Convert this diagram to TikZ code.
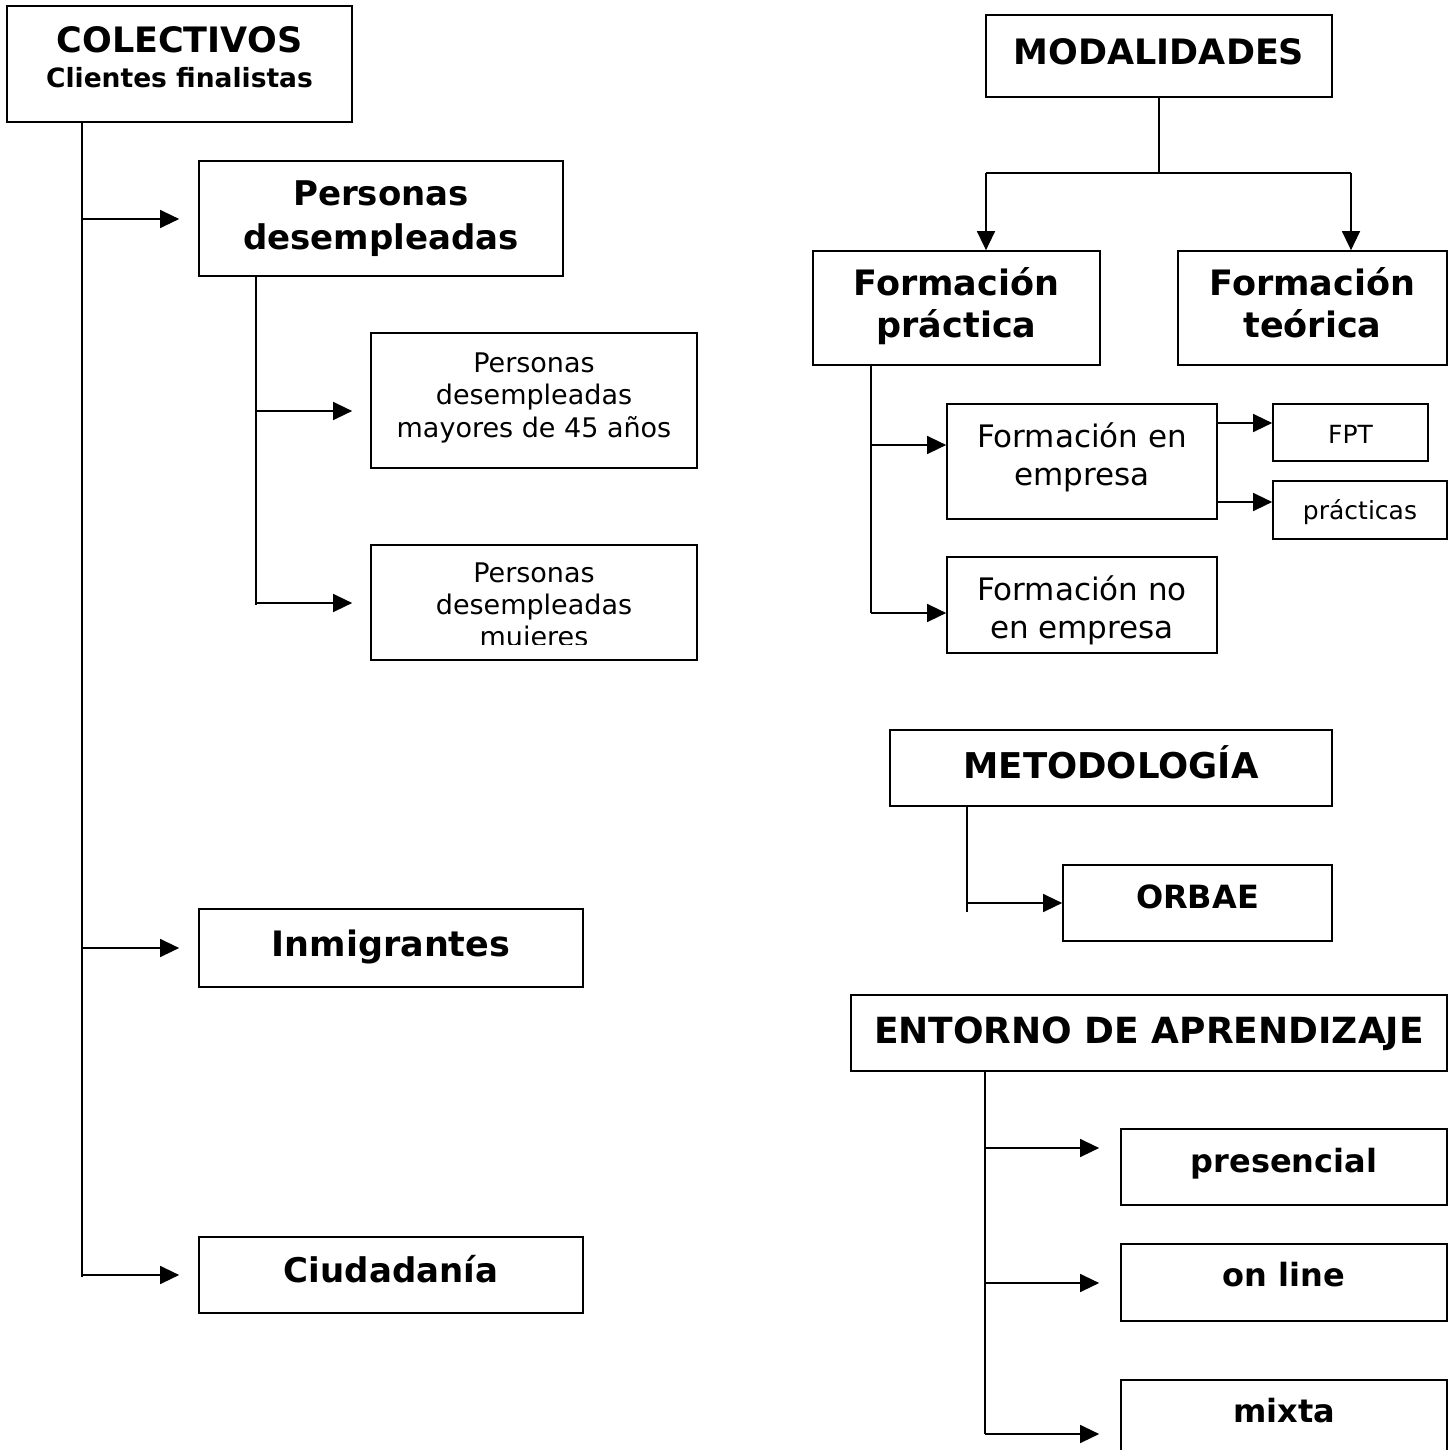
\documentclass[tikz,border=0pt]{standalone}
\usepackage{fontspec}
\setmainfont{DejaVu Sans}
\usetikzlibrary{arrows.meta,calc}
\newcommand{\fsz}[2]{\fontsize{#1}{#2}\selectfont}
% width, height, first-baseline offset, content
\newcommand{\mytb}[4]{\parbox[c][#2pt][t]{#1pt}{\centering\rule{0pt}{#3pt}#4}}
\begin{document}
\begin{tikzpicture}[x=1pt,y=-1pt,
  box/.style={draw, line width=1.7pt, inner sep=0pt},
  conn/.style={line width=1.4pt},
  arr/.style={line width=1.4pt, -{Triangle[length=19pt,width=18pt]}}]
\useasboundingbox (0,0) rectangle (1454,1450);
\fill[white] (0,0) rectangle (1454,1450);

% ---------- left column ----------
\node[box] (col) at (179.5,64)
  {\mytb{345}{116}{47}{\bfseries\fsz{35}{35}COLECTIVOS\\\fsz{26.5}{35}Clientes finalistas}};
\node[box] (pd) at (381,218.5) {\mytb{364}{115}{45}{\bfseries\fsz{34}{43.5}Personas\\desempleadas}};
\node[box] (pm) at (534,400.5) {\mytb{326}{135}{39}{\fsz{27}{32.5}Personas\\desempleadas\\mayores de 45 años}};
\node[box, minimum width=326pt, minimum height=115pt] (pw) at (534,602.5) {};
\begin{scope}
  \clip (pw.north west) rectangle ($(pw.north east)+(0,100)$);
  \node[inner sep=0pt, anchor=north] (pwt) at (pw.north)
    {\mytb{326}{115}{38}{\fsz{27}{32}Personas\\desempleadas\\mujeres}};
\end{scope}
\node[box] (inm) at (391,948) {\mytb{384}{78}{47}{\bfseries\fsz{35}{40}Inmigrantes}};
\node[box] (ciu) at (391,1275) {\mytb{384}{76}{45.5}{\bfseries\fsz{34}{40}Ciudadanía}};

\coordinate (ctop) at ($(col.south west)+(76,0)$);
\coordinate (c1) at (ctop |- 0,219);
\coordinate (c2) at (ctop |- 0,948);
\coordinate (c3) at (ctop |- 0,1275);
\coordinate (cend) at (ctop |- 0,1277);
\draw[conn] (ctop) -- (cend);
\draw[arr] (c1) -- ($(pd.west |- c1)+(-19,0)$);
\draw[arr] (c2) -- ($(inm.west |- c2)+(-19,0)$);
\draw[arr] (c3) -- ($(ciu.west |- c3)+(-19,0)$);

\coordinate (ptop) at ($(pd.south west)+(58,0)$);
\coordinate (p1) at (ptop |- 0,411);
\coordinate (p2) at (ptop |- 0,603);
\coordinate (pend) at (ptop |- 0,605);
\draw[conn] (ptop) -- (pend);
\draw[arr] (p1) -- ($(pm.west |- p1)+(-18,0)$);
\draw[arr] (p2) -- ($(pw.west |- p2)+(-18,0)$);

% ---------- modalidades ----------
\node[box] (mod) at (1159,56) {\mytb{346}{82}{50}{\bfseries\fsz{35}{40}MODALIDADES}};
\node[box] (fp) at (956.5,308) {\mytb{287}{114}{44}{\bfseries\fsz{35}{42.5}Formación\\práctica}};
\node[box] (ft) at (1312.5,308) {\mytb{269}{114}{44}{\bfseries\fsz{35}{42.5}Formación\\teórica}};
\coordinate (mj) at (mod.south |- 0,173);
\coordinate (mjl) at (986,173);
\coordinate (mjr) at (1351,173);
\draw[conn] (mod.south) -- (mj);
\draw[conn] (mjl) -- (mjr);
\draw[arr] (mjl) -- (mjl |- fp.north);
\draw[arr] (mjr) -- (mjr |- ft.north);

\node[box] (fe) at (1082,461.5) {\mytb{270}{115}{43}{\fsz{31}{38.5}Formación en\\empresa}};
\node[box] (fn) at (1082,605) {\mytb{270}{96}{43}{\fsz{31}{38.5}Formación no\\en empresa}};
\coordinate (ftop) at ($(fp.south west)+(59,0)$);
\coordinate (f1) at (ftop |- 0,445);
\coordinate (f2) at (ftop |- 0,613);
\draw[conn] (ftop) -- (f2);
\draw[arr] (f1) -- (fe.west |- f1);
\draw[arr] (f2) -- (fn.west |- f2);

\node[box] (fpt) at (1350.5,432.5) {\mytb{155}{57}{39}{\fsz{25}{30}FPT}};
\node[box] (pra) at (1360,510) {\mytb{174}{58}{38}{\fsz{25}{30}prácticas}};
\coordinate (e1) at (fe.east |- 0,423);
\coordinate (e2) at (fe.east |- 0,502);
\draw[arr] (e1) -- (fpt.west |- e1);
\draw[arr] (e2) -- (pra.west |- e2);

% ---------- metodologia ----------
\node[box] (met) at (1111,768) {\mytb{442}{76}{48.5}{\bfseries\fsz{35.5}{40}METODOLOGÍA}};
\node[box] (orb) at (1197.5,903) {\mytb{269}{76}{43}{\bfseries\fsz{32}{38}ORBAE}};
\coordinate (mtop) at ($(met.south west)+(78,0)$);
\coordinate (m1) at (mtop |- 0,903);
\coordinate (mend) at (mtop |- 0,912);
\draw[conn] (mtop) -- (mend);
\draw[arr] (m1) -- (orb.west |- m1);

% ---------- entorno ----------
\node[box] (ent) at (1149,1033) {\mytb{596}{76}{48}{\bfseries\fsz{36}{40}ENTORNO DE APRENDIZAJE}};
\node[box] (pre) at (1284,1167) {\mytb{326}{76}{43}{\bfseries\fsz{32}{38}presencial}};
\node[box] (onl) at (1284,1282.5) {\mytb{326}{77}{42}{\bfseries\fsz{32}{38}on line}};
\node[box] (mix) at (1284,1418) {\mytb{326}{76}{42.5}{\bfseries\fsz{32}{38}mixta}};
\coordinate (etop) at ($(ent.south west)+(135,0)$);
\coordinate (g1) at (etop |- 0,1148);
\coordinate (g2) at (etop |- 0,1283);
\coordinate (g3) at (etop |- 0,1434);
\draw[conn] (etop) -- (g3);
\draw[arr] (g1) -- ($(pre.west |- g1)+(-21,0)$);
\draw[arr] (g2) -- ($(onl.west |- g2)+(-21,0)$);
\draw[arr] (g3) -- ($(mix.west |- g3)+(-21,0)$);
\end{tikzpicture}
\end{document}
